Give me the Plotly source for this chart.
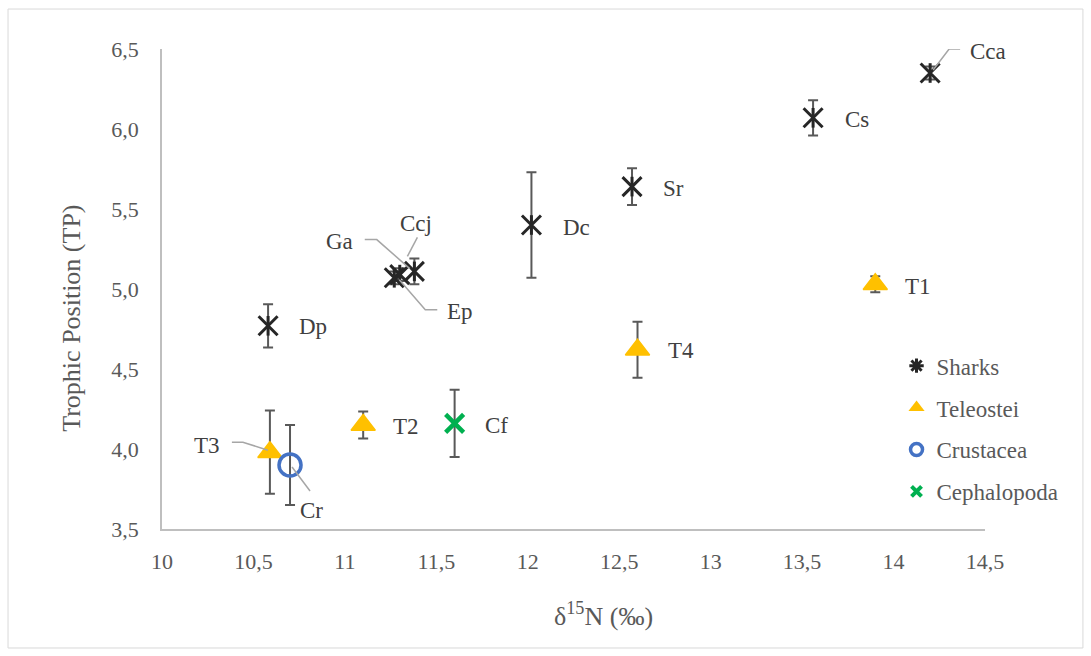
import plotly.graph_objects as go

# ---------------- data ----------------
shark_names = ["Cca", "Cs", "Sr", "Dc", "Ccj", "Ga", "Ep", "Dp"]
shark_x = [14.20, 13.56, 12.57, 12.02, 11.38, 11.30, 11.27, 10.58]
shark_y = [6.35, 6.07, 5.64, 5.40, 5.11, 5.09, 5.07, 4.77]
shark_err = [0.04, 0.11, 0.115, 0.33, 0.08, 0.04, 0.04, 0.135]

tele_names = ["T1", "T2", "T3", "T4"]
tele_x = [13.90, 11.10, 10.59, 12.60]
tele_y = [5.03, 4.15, 3.98, 4.62]
tele_err = [0.05, 0.085, 0.26, 0.175]

crus_names = ["Cr"]
crus_x = [10.70]
crus_y = [3.90]
crus_err = [0.25]

ceph_names = ["Cf"]
ceph_x = [11.60]
ceph_y = [4.16]
ceph_err = [0.21]

group_names = ["Sharks", "Teleostei", "Crustacea", "Cephalopoda"]

x_title = "δ<sup>15</sup>N (‰)"
y_title = "Trophic Position (TP)"

# ---------------- style ----------------
FONT = "Liberation Serif"
TXT = "#404040"
AX_TXT = "#595959"
ERR_COL = "#595959"
C_SHARK = "#262626"
C_TELE = "#FFC000"
C_CRUS = "#4472C4"
C_CEPH = "#00B050"
LEADER = "#A6A6A6"

# label placement: (anchor, dx, dy) in screen pixels (dy positive = down)
label_pos = {
    "Cca": ("left", 38, -22), "Cs": ("left", 30, 2), "Sr": ("left", 29, 2),
    "Dc": ("left", 30, 2), "Ccj": ("center", 2, -48), "Ga": ("right", -45, -33),
    "Ep": ("left", 51, 34), "Dp": ("left", 29, 1),
    "T1": ("left", 28, 2), "T2": ("left", 28, 1), "T3": ("right", -48, -7),
    "T4": ("left", 28, 1), "Cr": ("left", 8, 45), "Cf": ("left", 28, 2),
}
# leader lines (screen pixel offsets from the point)
leaders = {
    "Cca": [(30, -24), (19, -24), (3, -3)],
    "Ccj": [(3, -34), (-7, -15)],
    "Ga": [(-35, -35), (-23, -35), (10, -6)],
    "Ep": [(43, 32), (31, 32), (5, 2)],
    "T3": [(-38, -10), (-27, -10), (-2, -2)],
    "Cr": [(20, 26), (2, 2)],
}

fig = go.Figure()

def err(vals, w=5):
    return dict(type="data", array=vals, visible=True, color=ERR_COL,
                thickness=2, width=w)

# sharks: X + vertical bar = Excel star marker
fig.add_trace(go.Scatter(
    x=shark_x, y=shark_y, mode="markers", error_y=err(shark_err),
    marker=dict(symbol="x-thin-open", size=19, color=C_SHARK,
                line=dict(color=C_SHARK, width=3)),
    showlegend=False, cliponaxis=False))
fig.add_trace(go.Scatter(
    x=shark_x, y=shark_y, mode="markers",
    marker=dict(symbol="line-ns-open", size=14, color=C_SHARK,
                line=dict(color=C_SHARK, width=3)),
    showlegend=False, cliponaxis=False))
fig.add_trace(go.Scatter(
    x=tele_x, y=tele_y, mode="markers", error_y=err(tele_err),
    marker=dict(symbol="triangle-up", size=21, color=C_TELE,
                line=dict(color=C_TELE, width=1.5)),
    showlegend=False, cliponaxis=False))
fig.add_trace(go.Scatter(
    x=crus_x, y=crus_y, mode="markers", error_y=err(crus_err),
    marker=dict(symbol="circle-open", size=22, color=C_CRUS,
                line=dict(color=C_CRUS, width=3.5)),
    showlegend=False, cliponaxis=False))
fig.add_trace(go.Scatter(
    x=ceph_x, y=ceph_y, mode="markers", error_y=err(ceph_err),
    marker=dict(symbol="x-thin-open", size=18, color=C_CEPH,
                line=dict(color=C_CEPH, width=4.5)),
    showlegend=False, cliponaxis=False))

# legend entries
leg_markers = [
    dict(symbol="asterisk-open", size=12, color=C_SHARK, line=dict(color=C_SHARK, width=3)),
    dict(symbol="triangle-up", size=14, color=C_TELE),
    dict(symbol="circle-open", size=12, color=C_CRUS, line=dict(color=C_CRUS, width=3.5)),
    dict(symbol="x-thin-open", size=10, color=C_CEPH, line=dict(color=C_CEPH, width=4)),
]
for nm, mk in zip(group_names, leg_markers):
    fig.add_trace(go.Scatter(x=[None], y=[None], mode="markers", name=nm,
                             marker=mk, legendgroup=nm, showlegend=True))

# labels + leaders
all_pts = []
for names, xs, ys in [(shark_names, shark_x, shark_y), (tele_names, tele_x, tele_y),
                      (crus_names, crus_x, crus_y), (ceph_names, ceph_x, ceph_y)]:
    all_pts += list(zip(names, xs, ys))

for nm, x, y in all_pts:
    anc, dx, dy = label_pos[nm]
    fig.add_annotation(x=x, y=y, text=nm, showarrow=False, xanchor=anc,
                       yanchor="middle", xshift=dx, yshift=-dy,
                       font=dict(family=FONT, size=23, color=TXT))
    if nm in leaders:
        pts = leaders[nm]
        path = "M " + " L ".join(f"{px} {-py}" for px, py in pts)
        fig.add_shape(type="path", xref="x", yref="y", xsizemode="pixel",
                      ysizemode="pixel", xanchor=x, yanchor=y, path=path,
                      line=dict(color=LEADER, width=1.5), layer="above")

# axis titles
fig.add_annotation(xref="paper", yref="paper", x=0.537, y=-0.179, text=x_title,
                   showarrow=False, xanchor="center", yanchor="middle",
                   font=dict(family=FONT, size=26, color=AX_TXT))
fig.add_annotation(xref="paper", yref="paper", x=-0.1094, y=0.44, text=y_title,
                   showarrow=False, textangle=-90, xanchor="center", yanchor="middle",
                   font=dict(family=FONT, size=26, color=AX_TXT))

# outer frame
fig.add_shape(type="rect", xref="paper", yref="paper", x0=-0.1871, x1=1.119,
              y0=-0.2479, y1=1.0833, line=dict(color="#D9D9D9", width=1),
              layer="below")

axis_common = dict(showgrid=False, zeroline=False, showline=True,
                   linecolor="#BFBFBF", linewidth=1.5, ticks="",
                   tickfont=dict(family=FONT, size=22, color=AX_TXT))
fig.update_xaxes(range=[10, 14.5], dtick=0.5, tick0=10, ticklabelstandoff=12,
                 **axis_common)
fig.update_yaxes(range=[3.5, 6.5], dtick=0.5, tick0=3.5, tickformat=".1f",
                 ticklabelstandoff=17, **axis_common)

fig.update_layout(
    width=1091, height=656,
    margin=dict(l=162, r=106, t=49, b=127),
    paper_bgcolor="white", plot_bgcolor="white",
    separators=", ",
    font=dict(family=FONT, color=TXT),
    legend=dict(x=0.8925, y=0.385, xanchor="left", yanchor="top",
                bgcolor="rgba(0,0,0,0)", tracegroupgap=9,
                font=dict(family=FONT, size=23, color=AX_TXT)),
)

fig.write_html("out.html")
